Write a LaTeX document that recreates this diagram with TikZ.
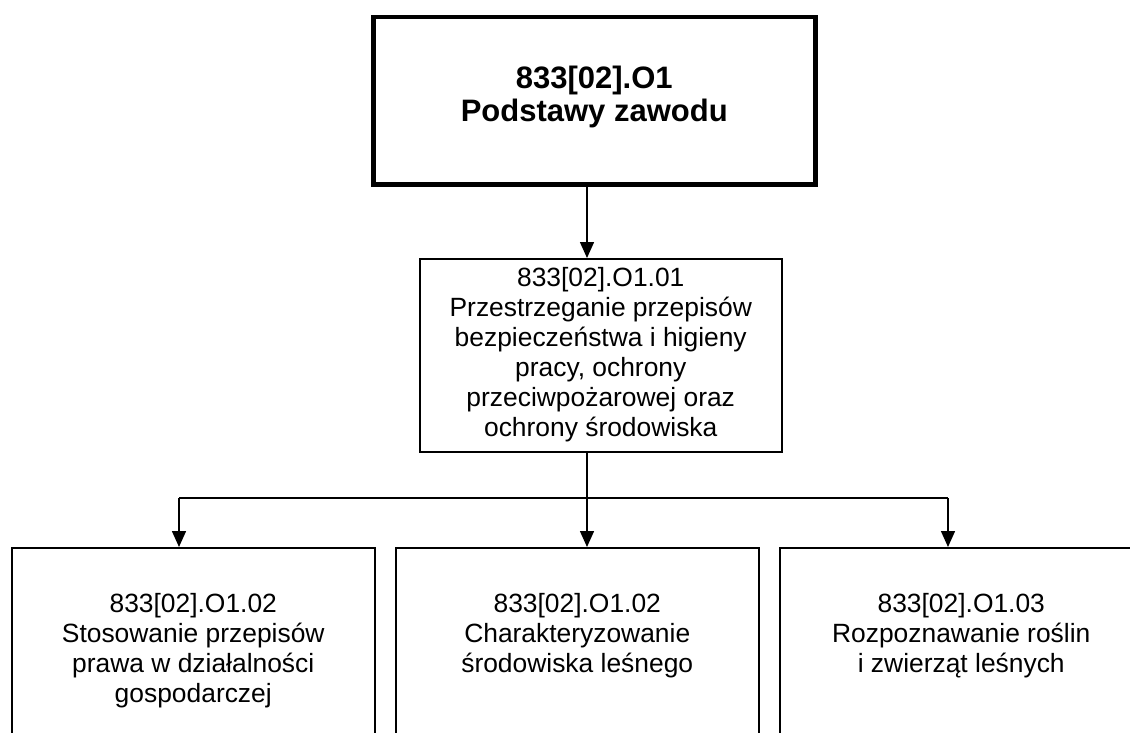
\documentclass[tikz,border=0pt]{standalone}
\usepackage{fontspec}
\setmainfont{Liberation Sans}
\usetikzlibrary{arrows.meta}
% #1 height, #2 width, #3 top gap, #4 text
\newcommand\bxtext[4]{\parbox[c][#1][t]{#2}{\centering\vspace*{#3}#4\par}}
\newcommand\regtext{\fontsize{26.4}{30}\selectfont\strut}
\newcommand\boldtext{\bfseries\fontsize{31}{32}\selectfont\strut}
\tikzset{
  boxbase/.style={draw=black, inner sep=0pt, anchor=north west},
  thinbox/.style={boxbase, line width=1.5pt},
  thickbox/.style={boxbase, line width=4.5pt},
  conn/.style={draw=black, line width=1.5pt},
  arr/.style={conn, -{Triangle[length=16pt,width=14pt]}}
}
\begin{document}
\begin{tikzpicture}[x=1pt,y=-1pt]
\useasboundingbox (0,0) rectangle (1130,733);
\fill[white] (0,0) rectangle (1130,733);
\clip (0,0) rectangle (1130,733);

\node[thickbox] (top) at (371,15)
  {\bxtext{167pt}{442pt}{48.6pt}{\boldtext 833[02].O1\\Podstawy zawodu}};

\node[thinbox] (mid) at (419,258)
  {\bxtext{193pt}{362pt}{7pt}{\regtext 833[02].O1.01\\Przestrzeganie przepisów\\bezpieczeństwa i higieny\\pracy, ochrony\\przeciwpożarowej oraz\\ochrony środowiska}};

\node[thinbox] (b1) at (11,547)
  {\bxtext{210pt}{363pt}{44pt}{\regtext 833[02].O1.02\\Stosowanie przepisów\\prawa w działalności\\gospodarczej}};
\node[thinbox] (b2) at (395,547)
  {\bxtext{210pt}{363pt}{44pt}{\regtext 833[02].O1.02\\Charakteryzowanie\\środowiska leśnego}};
\node[thinbox] (b3) at (779,547)
  {\bxtext{210pt}{363pt}{44pt}{\regtext 833[02].O1.03\\Rozpoznawanie roślin\\i zwierząt leśnych}};

\coordinate (busL) at (179,498);
\coordinate (busM) at (587,498);
\coordinate (busR) at (948,498);

\draw[arr] (busM |- top.south) -- (busM |- mid.north);
\draw[conn] (busM |- mid.south) -- (busM);
\draw[conn] (busL) -- (busR);
\draw[arr] (busL) -- (busL |- b1.north);
\draw[arr] (busM) -- (busM |- b2.north);
\draw[arr] (busR) -- (busR |- b3.north);
\end{tikzpicture}
\end{document}
